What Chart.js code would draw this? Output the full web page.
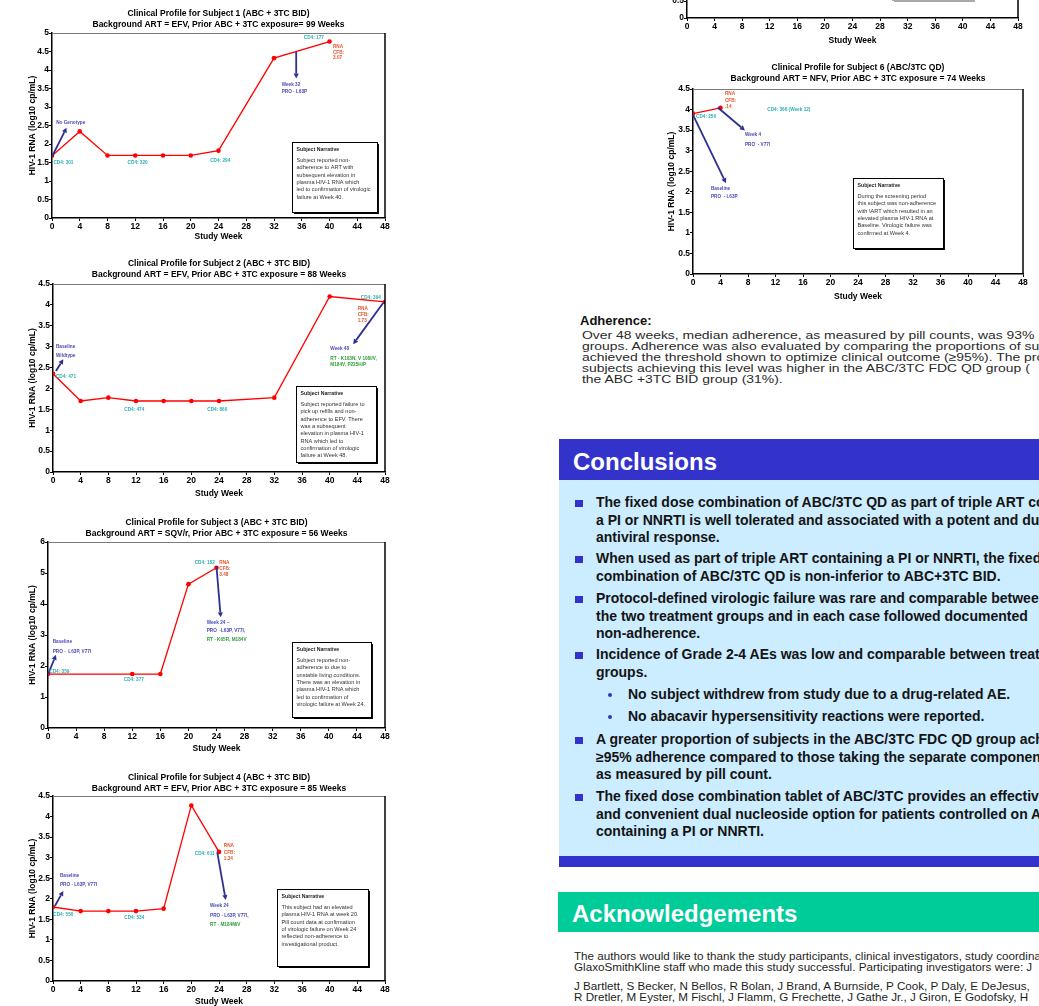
<!DOCTYPE html>
<html>
<head>
<meta charset="utf-8">
<title>Clinical Profiles - ABC/3TC</title>
<script src="https://cdn.jsdelivr.net/npm/chart.js"></script>
<style>
  html, body { margin: 0; padding: 0; }
  body { width: 1039px; height: 1006px; overflow: hidden; position: relative; background: #fff;
         font-family: "Liberation Sans", Arial, Helvetica, sans-serif; }
  canvas { position: absolute; }
  .abs { position: absolute; white-space: nowrap; }
  .adh-h { font-weight: bold; font-size: 13px; line-height: 13px; color: #111; }
  .adh { font-size: 11.5px; line-height: 11px; color: #2a2a2a; transform: scaleX(1.21); transform-origin: 0 0; }
  .bar { position: absolute; }
  .bar-t { position: absolute; color: #fff; font-weight: bold; font-size: 24px; line-height: 24px; white-space: nowrap; }
  .pt { position: absolute; white-space: nowrap; font-weight: bold; font-size: 14px; line-height: 17.3px; color: #141414; }
  .sq { position: absolute; width: 7.5px; height: 7px; background: #3333cc; }
  .dot { position: absolute; width: 4.5px; height: 4.5px; border-radius: 50%; background: #3333cc; }
  .ack { font-size: 10.7px; line-height: 11px; color: #1e1e1e; transform: scaleX(1.09); transform-origin: 0 0; }
</style>
</head>
<body>

<canvas id="s1"></canvas>
<canvas id="s2"></canvas>
<canvas id="s3"></canvas>
<canvas id="s4"></canvas>
<canvas id="s5"></canvas>
<canvas id="s6"></canvas>

<!-- Adherence -->
<div class="abs adh-h" style="left:580px;top:313.5px">Adherence:</div>
<div class="abs adh" style="left:582px;top:329.5px">Over 48 weeks, median adherence, as measured by pill counts, was 93%<br>groups. Adherence was also evaluated by comparing the proportions of subjects<br>achieved the threshold shown to optimize clinical outcome (≥95%). The proportion<br>subjects achieving this level was higher in the ABC/3TC FDC QD group (<br>the ABC +3TC BID group (31%).</div>

<!-- Conclusions -->
<div class="bar" style="left:559px;top:439px;width:480px;height:41px;background:#3333cc"></div>
<div class="bar-t" style="left:573px;top:450px">Conclusions</div>
<div class="bar" style="left:559px;top:480px;width:480px;height:376px;background:#ccecff"></div>
<div class="bar" style="left:559px;top:856px;width:480px;height:11px;background:#3333cc"></div>

<div class="sq" style="left:575px;top:499.5px"></div>
<div class="pt" style="left:596px;top:494.4px">The fixed dose combination of ABC/3TC QD as part of triple ART containing<br>a PI or NNRTI is well tolerated and associated with a potent and durable<br>antiviral response.</div>
<div class="sq" style="left:575px;top:555.5px"></div>
<div class="pt" style="left:596px;top:550.4px">When used as part of triple ART containing a PI or NNRTI, the fixed dose<br>combination of ABC/3TC QD is non-inferior to ABC+3TC BID.</div>
<div class="sq" style="left:575px;top:595.5px"></div>
<div class="pt" style="left:596px;top:590.4px">Protocol-defined virologic failure was rare and comparable between<br>the two treatment groups and in each case followed documented<br>non-adherence.</div>
<div class="sq" style="left:575px;top:651.5px"></div>
<div class="pt" style="left:596px;top:646.4px">Incidence of Grade 2-4 AEs was low and comparable between treatment<br>groups.</div>
<div class="dot" style="left:607.5px;top:692.8px"></div>
<div class="pt" style="left:628px;top:686.4px">No subject withdrew from study due to a drug-related AE.</div>
<div class="dot" style="left:607.5px;top:714.8px"></div>
<div class="pt" style="left:628px;top:708.4px">No abacavir hypersensitivity reactions were reported.</div>
<div class="sq" style="left:575px;top:736.5px"></div>
<div class="pt" style="left:596px;top:731.4px">A greater proportion of subjects in the ABC/3TC FDC QD group achieved<br>≥95% adherence compared to those taking the separate components<br>as measured by pill count.</div>
<div class="sq" style="left:575px;top:793.5px"></div>
<div class="pt" style="left:596px;top:788.4px">The fixed dose combination tablet of ABC/3TC provides an effective<br>and convenient dual nucleoside option for patients controlled on ART<br>containing a PI or NNRTI.</div>

<!-- Acknowledgements -->
<div class="bar" style="left:558px;top:892px;width:481px;height:40px;background:#00cc99"></div>
<div class="bar-t" style="left:572px;top:902px">Acknowledgements</div>
<div class="abs ack" style="left:574px;top:950.5px">The authors would like to thank the study participants, clinical investigators, study coordinators and</div>
<div class="abs ack" style="left:574px;top:961.5px">GlaxoSmithKline staff who made this study successful. Participating investigators were: J</div>
<div class="abs ack" style="left:574px;top:980.5px">J Bartlett, S Becker, N Bellos, R Bolan, J Brand, A Burnside, P Cook, P Daly, E DeJesus,</div>
<div class="abs ack" style="left:574px;top:991.5px">R Dretler, M Eyster, M Fischl, J Flamm, G Frechette, J Gathe Jr., J Giron, E Godofsky, H</div>

<script>
const weekTicks = [0, 4, 8, 12, 16, 20, 24, 28, 32, 36, 40, 44, 48];

const s1Weeks = [0, 4, 8, 12, 16, 20, 24, 32, 40];
const s1Rna   = [1.68, 2.34, 1.69, 1.69, 1.69, 1.69, 1.82, 4.32, 4.77];

const s2Weeks = [0, 4, 8, 12, 16, 20, 24, 32, 40, 48];
const s2Rna   = [2.35, 1.70, 1.78, 1.70, 1.70, 1.70, 1.70, 1.78, 4.20, 4.07];

const s3Weeks = [0, 12, 16, 20, 24];
const s3Rna   = [1.74, 1.74, 1.74, 4.64, 5.17];

const s4Weeks = [0, 4, 8, 12, 16, 20, 24];
const s4Rna   = [1.80, 1.70, 1.70, 1.70, 1.76, 4.27, 3.14];

// subject 5 is cut off by the top of the page, nothing of the series shows
const s5Weeks = [];
const s5Rna   = [];

const s6Weeks = [0, 4];
const s6Rna   = [3.90, 4.04];

const FONT = '"Liberation Sans", Arial, Helvetica, sans-serif';
Chart.defaults.font.family = FONT;
Chart.defaults.color = '#000';

const C = { blue: '#4b4bb6', teal: '#2eb0b0', red: '#e4572e', green: '#2e9e3a', arrow: '#2c3190' };

// annotations: [text, week, value, colour]
const s1Notes = {
  labels: [
    ['No Genotype', 0.6, 2.58, 'blue'], ['CD4: 301', 0.2, 1.49, 'teal'], ['CD4: 320', 10.9, 1.49, 'teal'],
    ['CD4: 294', 22.8, 1.56, 'teal'], ['CD4: 177', 36.3, 4.86, 'teal'],
    ['RNA', 40.5, 4.63, 'red'], ['CFB:', 40.5, 4.48, 'red'], ['3.07', 40.5, 4.32, 'red'],
    ['Week 32', 33.1, 3.61, 'blue'], ['PRO - L63P', 33.1, 3.41, 'blue']
  ],
  arrows: [[0, 1.66, 2.1, 2.44], [35.2, 4.49, 35.2, 3.77]],
  boxes: [{ x1: 34.6, y1: 2.06, x2: 46.9, y2: 0.15, title: 'Subject Narrative',
    lines: ['Subject reported non-', 'adherence to ART with', 'subsequent elevation in',
            'plasma HIV-1 RNA which', 'led to confirmation of virologic', 'failure at Week 40.'] }]
};

const s2Notes = {
  labels: [
    ['Baseline', 0.43, 3.0, 'blue'], ['Wildtype', 0.43, 2.79, 'blue'], ['CD4: 471', 0.43, 2.27, 'teal'],
    ['CD4: 474', 10.3, 1.48, 'teal'], ['CD4: 860', 22.3, 1.48, 'teal'], ['CD4: 394', 44.5, 4.18, 'teal'],
    ['RNA', 44.05, 3.92, 'red'], ['CFB:', 44.05, 3.77, 'red'], ['1.73', 44.05, 3.62, 'red'],
    ['Week 48', 40.1, 2.94, 'blue'],
    ['RT - K103N, V 108I/V,', 40.1, 2.70, 'green'], ['M184V, P225H/P', 40.1, 2.56, 'green']
  ],
  arrows: [[0.43, 2.42, 1.49, 2.70], [47.75, 4.05, 43.4, 3.06]],
  boxes: [{ x1: 35.2, y1: 2.06, x2: 46.7, y2: 0.23, title: 'Subject Narrative',
    lines: ['Subject reported failure to', 'pick up refills and non-', 'adherence to EFV. There',
            'was a subsequent', 'elevation in plasma HIV-1', 'RNA which led to',
            'confirmation of virologic', 'failure at Week 48.'] }]
};

const s3Notes = {
  labels: [
    ['Baseline', 0.67, 2.78, 'blue'], ['PRO -  L63P, V77I', 0.67, 2.46, 'blue'],
    ['CD4: 359', 0.19, 1.82, 'teal'], ['CD4: 377', 10.8, 1.57, 'teal'], ['CD4: 182', 20.9, 5.34, 'teal'],
    ['RNA', 24.4, 5.34, 'red'], ['CFB:', 24.4, 5.15, 'red'], ['3.48', 24.4, 4.94, 'red'],
    ['Week 24 \u2013', 22.6, 3.41, 'blue'], ['PRO  -L63P, V77I,', 22.6, 3.13, 'blue'],
    ['RT - K65R, M184V', 22.6, 2.84, 'green']
  ],
  arrows: [[0, 1.73, 1.14, 2.36], [24.0, 5.2, 24.6, 3.57]],
  boxes: [{ x1: 34.8, y1: 2.76, x2: 46.0, y2: 0.35, title: 'Subject Narrative',
    lines: ['Subject reported non-', 'adherence to due to', 'unstable living conditions.',
            'There was an elevation in', 'plasma HIV-1 RNA which', 'led to confirmation of',
            'virologic failure at Week 24.'] }]
};

const s4Notes = {
  labels: [
    ['Baseline', 1.0, 2.55, 'blue'], ['PRO - L63P, V77I', 1.0, 2.34, 'blue'],
    ['CD4: 550', 0.05, 1.62, 'teal'], ['CD4: 534', 10.3, 1.55, 'teal'], ['CD4: 611', 20.5, 3.10, 'teal'],
    ['RNA', 24.7, 3.28, 'red'], ['CFB:', 24.7, 3.13, 'red'], ['1.34', 24.7, 2.98, 'red'],
    ['Week 24', 22.7, 1.82, 'blue'], ['PRO - L63P, V77I,', 22.7, 1.59, 'blue'],
    ['RT - M184M/V', 22.7, 1.38, 'green']
  ],
  arrows: [[0.29, 1.83, 1.49, 2.19], [23.75, 3.13, 24.97, 1.97]],
  boxes: [{ x1: 32.4, y1: 2.23, x2: 45.5, y2: 0.37, title: 'Subject Narrative',
    lines: ['This subject had an elevated', 'plasma HIV-1 RNA at week 20.',
            'Pill count data at confirmation', 'of virologic failure on Week 24',
            'reflected non-adherence to', 'investigational product.'] }]
};

const s5Notes = {
  labels: [], arrows: [],
  boxes: [{ x1: 29.8, y1: 3.0, x2: 41.5, y2: 0.53, edge: '#a8a8a8', lines: [] }]
};

const s6Notes = {
  labels: [
    ['RNA', 4.65, 4.38, 'red'], ['CFB:', 4.65, 4.22, 'red'], ['.14', 4.65, 4.07, 'red'],
    ['CD4: 256', 0.44, 3.83, 'teal'], ['CD4: 366 (Week 12)', 10.8, 4.0, 'teal'],
    ['Week 4', 7.56, 3.38, 'blue'], ['PRO  - V77I', 7.56, 3.15, 'blue'],
    ['Baseline', 2.6, 2.08, 'blue'], ['PRO  - L63P', 2.6, 1.88, 'blue']
  ],
  arrows: [[3.6, 4.05, 7.56, 3.49], [0, 3.87, 4.8, 2.21]],
  boxes: [{ x1: 23.2, y1: 2.33, x2: 36.4, y2: 0.64, title: 'Subject Narrative',
    lines: ['During the screening period', 'this subject was non-adherence',
            'with \\ART which resulted in an', 'elevated plasma HIV-1 RNA at',
            'Baseline. Virologic failure was', 'confirmed at Week 4.'] }]
};

// draws frame, narrative boxes, arrows and labels in data coordinates
function notesPlugin(n) {
  return {
    id: 'notes',
    afterDatasetsDraw(chart) {
      const { ctx, chartArea: a, scales: { x, y } } = chart;
      const px = v => x.getPixelForValue(v), py = v => y.getPixelForValue(v);
      ctx.save();
      ctx.lineWidth = 1; ctx.strokeStyle = '#7a7a7a';
      ctx.beginPath(); ctx.moveTo(a.left, a.top + 0.5); ctx.lineTo(a.right, a.top + 0.5); ctx.stroke();
      ctx.lineWidth = 1.5; ctx.strokeStyle = '#000';
      ctx.beginPath(); ctx.moveTo(a.right, a.top); ctx.lineTo(a.right, a.bottom); ctx.stroke();

      n.boxes.forEach(b => {
        const l = Math.round(px(b.x1)), t = Math.round(py(b.y1));
        const r = Math.round(px(b.x2)), bt = Math.round(py(b.y2));
        ctx.fillStyle = '#fff'; ctx.fillRect(l, t, r - l, bt - t);
        ctx.strokeStyle = b.edge || '#000'; ctx.lineWidth = 1;
        ctx.strokeRect(l + 0.5, t + 0.5, r - l, bt - t);
        ctx.lineWidth = 1.5;
        ctx.beginPath(); ctx.moveTo(r + 1.2, t + 2); ctx.lineTo(r + 1.2, bt + 1.2); ctx.lineTo(l + 2, bt + 1.2); ctx.stroke();
        ctx.textAlign = 'left'; ctx.textBaseline = 'middle';
        if (b.title) {
          ctx.fillStyle = '#222'; ctx.font = 'bold 5.2px ' + FONT;
          ctx.fillText(b.title, l + 4.5, t + 7.2);
        }
        ctx.fillStyle = '#333'; ctx.font = '5.6px ' + FONT;
        b.lines.forEach((s, i) => ctx.fillText(s, l + 4.5, t + 18.3 + i * 7.35));
      });

      ctx.strokeStyle = C.arrow; ctx.fillStyle = C.arrow; ctx.lineWidth = 1.8;
      n.arrows.forEach(([x1, y1, x2, y2]) => {
        const ax = px(x1), ay = py(y1), bx = px(x2), by = py(y2);
        const ang = Math.atan2(by - ay, bx - ax), hl = 5, hw = 2.6;
        const ex = bx - Math.cos(ang) * hl, ey = by - Math.sin(ang) * hl;
        ctx.beginPath(); ctx.moveTo(ax, ay); ctx.lineTo(ex, ey); ctx.stroke();
        ctx.beginPath();
        ctx.moveTo(bx, by);
        ctx.lineTo(ex + Math.sin(ang) * hw, ey - Math.cos(ang) * hw);
        ctx.lineTo(ex - Math.sin(ang) * hw, ey + Math.cos(ang) * hw);
        ctx.closePath(); ctx.fill();
      });

      ctx.font = 'bold 4.7px ' + FONT; ctx.textAlign = 'left'; ctx.textBaseline = 'middle';
      n.labels.forEach(([s, wx, wy, c]) => { ctx.fillStyle = C[c]; ctx.fillText(s, px(wx), py(wy)); });
      ctx.restore();
    }
  };
}

// g: box [left, top, w, h], area [l, t, r, b], title (first line centre y), xTitle (centre y), yTitle (centre x)
function profile(id, g, weeks, rna, notes, yMax, yStep, title) {
  const [bl, bt, bw, bh] = g.box;
  const [al, at, ar, ab] = g.area;
  const cv = document.getElementById(id);
  cv.style.left = bl + 'px'; cv.style.top = bt + 'px';
  cv.width = bw; cv.height = bh;

  const fs = 8.5, tlh = fs * 1.27, alh = fs * 1.2;
  const head = at - bt;
  const tPadTop = title ? g.title - bt - tlh / 2 : 0;
  const tPadBot = title ? head - tPadTop - title.length * tlh : 0;

  new Chart(cv, {
    type: 'line',
    data: {
      datasets: [{
        data: weeks.map((w, i) => ({ x: w, y: rna[i] })),
        borderColor: '#ff0000', backgroundColor: '#ff0000', borderWidth: 1.3,
        pointRadius: 2.3, pointBorderWidth: 0, pointBackgroundColor: '#ff0000', tension: 0
      }]
    },
    options: {
      responsive: false, animation: false, devicePixelRatio: 1,
      layout: { padding: { left: 0, top: title ? 0 : head, right: bl + bw - ar, bottom: 0 } },
      plugins: {
        legend: { display: false }, tooltip: { enabled: false },
        title: {
          display: !!title, text: title, fullSize: false, color: '#000',
          font: { size: fs, weight: 'bold', lineHeight: 1.27 },
          padding: { top: tPadTop, bottom: tPadBot }
        }
      },
      scales: {
        x: {
          type: 'linear', min: 0, max: 48,
          afterBuildTicks: s => { s.ticks = weekTicks.map(v => ({ value: v })); },
          afterFit: s => { s.height = bt + bh - ab; },
          grid: { drawOnChartArea: false, drawTicks: true, tickLength: 3, color: '#000' },
          border: { color: '#000', width: 1.5 },
          ticks: { padding: 1, color: '#000', font: { size: fs, weight: 'bold' }, maxRotation: 0 },
          title: { display: true, text: 'Study Week', color: '#000',
                   font: { size: fs, weight: 'bold', lineHeight: 1.2 },
                   padding: { top: 0, bottom: bt + bh - g.xTitle - alh / 2 } }
        },
        y: {
          min: 0, max: yMax,
          afterFit: s => { s.width = al - bl; },
          grid: { drawOnChartArea: false, drawTicks: true, tickLength: 3, color: '#000' },
          border: { color: '#000', width: 1.5 },
          ticks: { stepSize: yStep, padding: 0, color: '#000', font: { size: fs, weight: 'bold' },
                   callback: v => String(v) },
          title: { display: true, text: 'HIV-1 RNA (log10 cp/mL)', color: '#000',
                   font: { size: fs, weight: 'bold', lineHeight: 1.2 },
                   padding: { top: g.yTitle - bl - alh / 2, bottom: 0 } }
        }
      }
    },
    plugins: [notesPlugin(notes)]
  });
}

profile('s1', { box: [0, 0, 400, 250], area: [52, 33, 385, 218], title: 14, xTitle: 237, yTitle: 33 },
  s1Weeks, s1Rna, s1Notes, 5, 0.5,
  ['Clinical Profile for Subject 1 (ABC + 3TC BID)', 'Background ART = EFV, Prior ABC + 3TC exposure= 99 Weeks']);

profile('s2', { box: [0, 252, 400, 250], area: [53, 284, 385, 472], title: 264, xTitle: 494, yTitle: 32.3 },
  s2Weeks, s2Rna, s2Notes, 4.5, 0.5,
  ['Clinical Profile for Subject 2 (ABC + 3TC BID)', 'Background ART = EFV, Prior ABC + 3TC exposure = 88 Weeks']);

profile('s3', { box: [0, 507, 400, 250], area: [48, 542, 385, 728], title: 522.5, xTitle: 749, yTitle: 32.3 },
  s3Weeks, s3Rna, s3Notes, 6, 1,
  ['Clinical Profile for Subject 3 (ABC + 3TC BID)', 'Background ART = SQV/r, Prior ABC + 3TC exposure = 56 Weeks']);

profile('s4', { box: [0, 762, 400, 244], area: [53, 796, 385, 981], title: 777.5, xTitle: 1002, yTitle: 32.3 },
  s4Weeks, s4Rna, s4Notes, 4.5, 0.5,
  ['Clinical Profile for Subject 4 (ABC + 3TC BID)', 'Background ART = EFV, Prior ABC + 3TC exposure = 85 Weeks']);

profile('s5', { box: [640, -200, 399, 250], area: [687, -152, 1018, 18], title: 0, xTitle: 41, yTitle: 668 },
  s5Weeks, s5Rna, s5Notes, 5, 0.5, null);

profile('s6', { box: [640, 58, 399, 250], area: [693, 89, 1023, 274], title: 68, xTitle: 297, yTitle: 672 },
  s6Weeks, s6Rna, s6Notes, 4.5, 0.5,
  ['Clinical Profile for Subject 6 (ABC/3TC QD)', 'Background ART = NFV, Prior ABC + 3TC exposure = 74 Weeks']);
</script>
</body>
</html>
